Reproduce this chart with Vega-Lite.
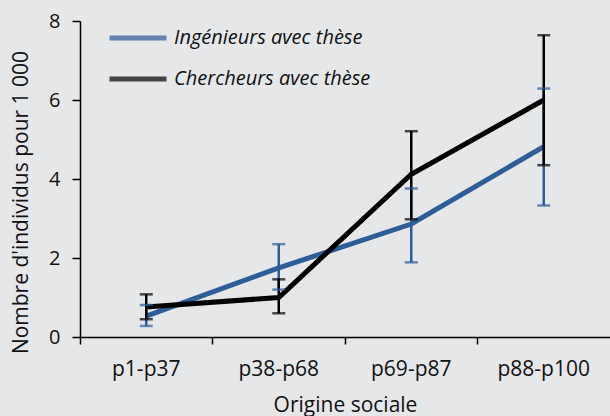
{
  "$schema": "https://vega.github.io/schema/vega-lite/v6.json",
  "autosize": "none",
  "width": 530,
  "height": 316,
  "padding": {"left": 80, "top": 21, "right": 0, "bottom": 79},
  "background": "#E6E7E9",
  "config": {
    "view": {"stroke": null},
    "font": "Open Sans",
    "axis": {"labelColor": "#111", "titleColor": "#111", "domainColor": "#000", "tickColor": "#000", "grid": false, "titleFontWeight": "normal", "domainWidth": 1.5, "tickWidth": 1.5}
  },
  "data": {
    "values": [
      {"cat": "p1-p37", "serie": "Ingénieurs avec thèse", "value": 0.53, "lo": 0.28, "hi": 0.81},
      {"cat": "p38-p68", "serie": "Ingénieurs avec thèse", "value": 1.75, "lo": 1.2, "hi": 2.35},
      {"cat": "p69-p87", "serie": "Ingénieurs avec thèse", "value": 2.86, "lo": 1.89, "hi": 3.76},
      {"cat": "p88-p100", "serie": "Ingénieurs avec thèse", "value": 4.82, "lo": 3.33, "hi": 6.29},
      {"cat": "p1-p37", "serie": "Chercheurs avec thèse", "value": 0.76, "lo": 0.45, "hi": 1.08},
      {"cat": "p38-p68", "serie": "Chercheurs avec thèse", "value": 1.0, "lo": 0.6, "hi": 1.46},
      {"cat": "p69-p87", "serie": "Chercheurs avec thèse", "value": 4.12, "lo": 2.98, "hi": 5.21},
      {"cat": "p88-p100", "serie": "Chercheurs avec thèse", "value": 6.0, "lo": 4.35, "hi": 7.64}
    ]
  },
  "encoding": {
    "x": {
      "field": "cat", "type": "nominal", "sort": null,
      "scale": {"paddingInner": 0, "paddingOuter": 0},
      "axis": {"title": "Origine sociale", "labelAngle": 0, "bandPosition": 0, "tickSize": 7, "labelPadding": 14, "titlePadding": 15, "labelFontSize": 21, "titleFontSize": 21}
    },
    "y": {
      "type": "quantitative",
      "scale": {"domain": [0, 8], "nice": false},
      "axis": {"title": "Nombre d'individus pour 1 000", "values": [0, 2, 4, 6, 8], "tickSize": 8, "labelPadding": 12, "labelFontSize": 20, "titleFontSize": 21, "titleX": -59, "titleY": 181, "titleBaseline": "middle", "titleAngle": 270}
    },
    "color": {
      "field": "serie", "type": "nominal",
      "scale": {"domain": ["Ingénieurs avec thèse", "Chercheurs avec thèse"], "range": ["#2F5D98", "#000000"]},
      "legend": {
        "title": null, "orient": "none", "legendX": 27, "legendY": -14,
        "symbolType": "stroke", "symbolSize": 3249, "symbolStrokeWidth": 5,
        "labelFontSize": 20, "labelFontStyle": "italic", "labelColor": "#111", "labelLimit": 400,
        "rowPadding": -27, "labelOffset": 5
      }
    }
  },
  "layer": [
    {
      "mark": {"type": "line", "strokeWidth": 5},
      "encoding": {
        "y": {"field": "value"},
        "order": {"field": "cat"}
      }
    },
    {
      "mark": {"type": "rule", "strokeWidth": 2.5},
      "encoding": {"y": {"field": "lo"}, "y2": {"field": "hi"}}
    },
    {
      "mark": {"type": "tick", "size": 13, "thickness": 2.5},
      "encoding": {"y": {"field": "lo"}}
    },
    {
      "mark": {"type": "tick", "size": 13, "thickness": 2.5},
      "encoding": {"y": {"field": "hi"}}
    }
  ]
}
